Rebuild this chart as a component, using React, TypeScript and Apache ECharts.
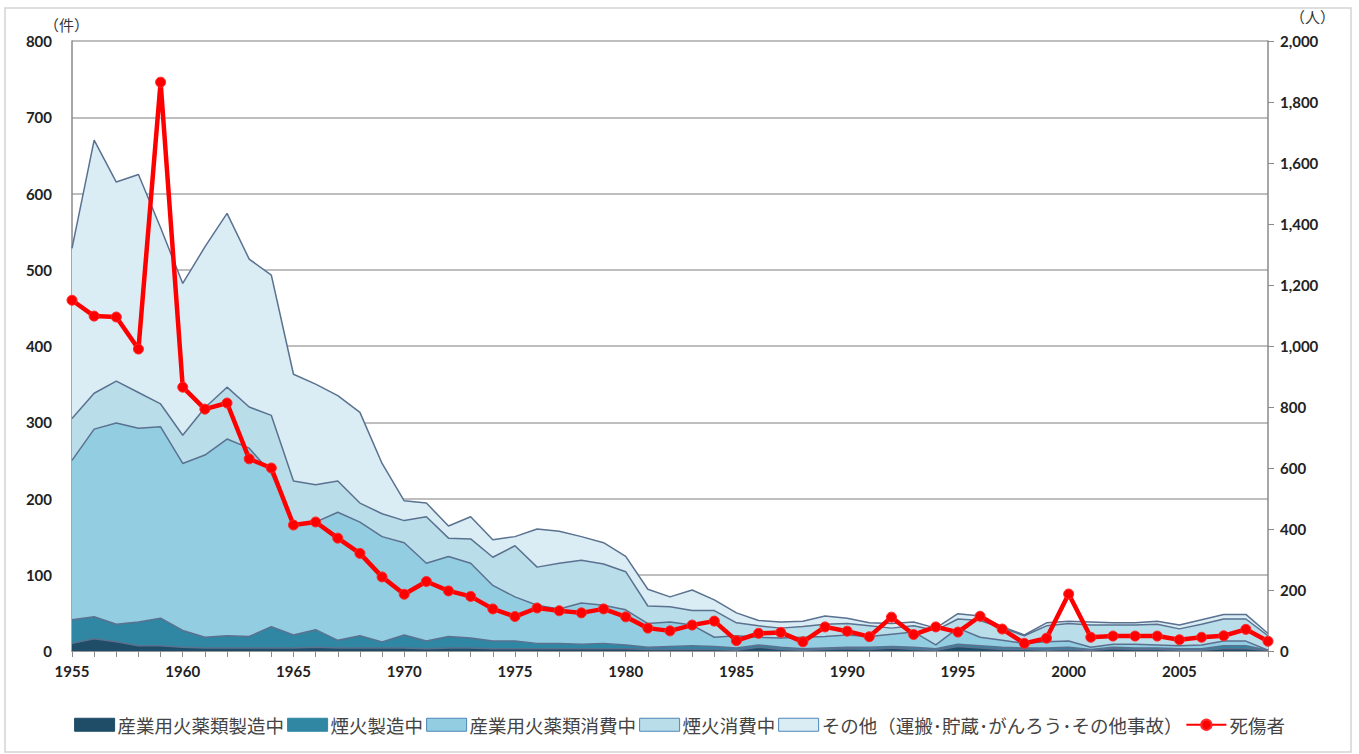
import React, { useEffect, useRef } from "react";
import * as echarts from "echarts";

const years: string[] = [];
for (let y = 1955; y <= 2009; y++) years.push(String(y));

const seriesNames = [
  "産業用火薬類製造中",
  "煙火製造中",
  "産業用火薬類消費中",
  "煙火消費中",
  "その他（運搬･貯蔵･がんろう･その他事故）",
];
const lineName = "死傷者";

// 産業用火薬類製造中
const indMfg = [
  10, 16, 12, 7, 7, 5, 4, 4, 4, 4, 4, 5, 4, 4,
  4, 4, 3, 4, 4, 3, 3, 3, 3, 3, 3, 3, 2, 2, 2,
  2, 1, 5, 2, 1, 2, 3, 2, 4, 2, 1, 6, 4, 2, 2,
  1, 2, 1, 3, 2, 2, 1, 1, 3, 3, 1,
];
// 煙火製造中
const fwMfg = [
  31, 29, 23, 31, 36, 22, 14, 16, 15, 28, 17, 23, 10, 16,
  8, 17, 10, 15, 13, 10, 10, 7, 7, 6, 7, 5, 3, 4, 5,
  4, 3, 3, 3, 2, 2, 2, 3, 2, 3, 2, 3, 3, 3, 2,
  3, 3, 1, 2, 2, 2, 2, 2, 4, 4, 0,
];
// 産業用火薬類消費中
const indUse = [
  209, 246, 264, 254, 251, 219, 239, 258, 247, 201, 147, 141, 168, 149,
  138, 121, 102, 105, 98, 73, 58, 50, 45, 54, 50, 46, 31, 32, 27,
  12, 16, 10, 12, 15, 15, 16, 14, 16, 20, 5, 21, 11, 9, 6,
  8, 8, 3, 4, 5, 4, 4, 5, 6, 6, 0,
];
// 煙火消費中
const fwUse = [
  55, 47, 55, 47, 30, 37, 62, 68, 54, 76, 55, 49, 41, 25,
  30, 29, 61, 24, 32, 37, 67, 50, 60, 56, 54, 50, 23, 20, 19,
  35, 17, 15, 13, 14, 16, 15, 14, 8, 8, 19, 12, 22, 16, 10,
  21, 23, 29, 25, 25, 27, 22, 27, 29, 29, 19,
];
// その他
const others = [
  223, 332, 261, 286, 231, 199, 211, 228, 194, 184, 140, 132, 112, 119,
  66, 26, 18, 16, 29, 23, 12, 50, 42, 31, 28, 20, 22, 13, 27,
  14, 13, 7, 8, 7, 11, 7, 4, 6, 5, 3, 7, 6, 2, 1,
  4, 3, 4, 3, 3, 4, 5, 6, 6, 6, 3,
];
// 死傷者
const casualties = [
  1150, 1098, 1095, 990, 1865, 865, 793, 813, 630, 600, 413, 423, 370, 320,
  243, 186, 228, 197, 179, 138, 113, 141, 132, 125, 138, 112, 75, 66, 85,
  98, 34, 58, 61, 30, 79, 65, 47, 111, 54, 79, 62, 114,
  72, 25, 42, 187, 45, 49, 49, 49, 37, 45, 50, 71, 32,
];

const areaValues = [indMfg, fwMfg, indUse, fwUse, others];
const areaColors = ["#1f4d68", "#2f87a3", "#93cde1", "#b9deea", "#dbedf4"];
const legendBorders = ["#1f4d68", "#2f87a3", "#4d86b8", "#4d86b8", "#4d86b8"];

export default function App() {
  const ref = useRef<HTMLDivElement>(null);
  useEffect(() => {
    if (!ref.current) return;
    const chart = echarts.init(ref.current, null, { renderer: "svg" });
    const numFont = "Lato, 'Liberation Sans', sans-serif";
    const jpFont = "'Noto Sans CJK JP', sans-serif";
    const series: any[] = areaValues.map((vals, i) => ({
      name: seriesNames[i],
      type: "line",
      stack: "total",
      data: vals,
      showSymbol: false,
      symbol: "none",
      lineStyle: { color: "#5a7190", width: 1.5 },
      itemStyle: { color: areaColors[i] },
      areaStyle: { color: areaColors[i], opacity: 1 },
      z: 2,
    }));
    series.push({
      name: lineName,
      type: "line",
      yAxisIndex: 1,
      data: casualties,
      symbol: "circle",
      symbolSize: 10,
      showSymbol: true,
      lineStyle: { color: "#ff0000", width: 4.5 },
      itemStyle: { color: "#ff0000", borderColor: "#ff2a2a", borderWidth: 1 },
      z: 5,
    });
    chart.setOption({
      animation: false,
      backgroundColor: "#ffffff",
      grid: { left: 72, right: 91, top: 41, bottom: 103 },
      graphic: [
        {
          type: "rect",
          shape: { x: 5, y: 8, width: 1346, height: 744 },
          style: { fill: "none", stroke: "#d4d4d4", lineWidth: 1.5 },
          silent: true,
        },
        {
          type: "text",
          left: 44,
          top: 17,
          style: { text: "（件）", font: `15px ${jpFont}`, fill: "#333" },
        },
        {
          type: "text",
          left: 1290,
          top: 9,
          style: { text: "（人）", font: `15px ${jpFont}`, fill: "#333" },
        },
      ],
      legend: {
        bottom: 15,
        left: "center",
        itemWidth: 40,
        itemHeight: 13,
        itemGap: 3,
        textStyle: { fontFamily: jpFont, fontSize: 18.5, color: "#444", padding: [0, 0, 0, -2] },
        data: [
          ...seriesNames.map((n, i) => ({
            name: n,
            icon: "rect",
            itemStyle: { color: areaColors[i], borderColor: legendBorders[i], borderWidth: 1 },
          })),
          { name: lineName },
        ],
      },
      xAxis: {
        type: "category",
        data: years,
        boundaryGap: false,
        axisLine: { lineStyle: { color: "#8a8a8a", width: 1.5 } },
        axisTick: { show: true, interval: 0, length: 6, lineStyle: { color: "#8a8a8a" } },
        axisLabel: {
          interval: 4,
          fontFamily: numFont,
          fontWeight: "bold",
          fontSize: 15,
          color: "#222",
          margin: 12,
        },
        splitLine: { show: false },
      },
      yAxis: [
        {
          type: "value",
          min: 0,
          max: 800,
          interval: 100,
          axisLine: { show: true, lineStyle: { color: "#8a8a8a", width: 1.5 } },
          axisTick: { show: false },
          axisLabel: {
            fontFamily: numFont,
            fontWeight: "bold",
            fontSize: 15,
            color: "#222",
            margin: 20,
          },
          splitLine: { show: true, lineStyle: { color: "#a8a8a8", width: 1.5 } },
        },
        {
          type: "value",
          min: 0,
          max: 2000,
          interval: 200,
          position: "right",
          axisLine: { show: true, lineStyle: { color: "#8a8a8a", width: 1.5 } },
          axisTick: { show: true, length: 6, lineStyle: { color: "#8a8a8a" } },
          axisLabel: {
            fontFamily: numFont,
            fontWeight: "bold",
            fontSize: 15,
            color: "#222",
            margin: 12,
            formatter: (v: number) => v.toLocaleString("en-US"),
          },
          splitLine: { show: false },
        },
      ],
      series,
    });
    return () => chart.dispose();
  }, []);
  return (
    <div
      ref={ref}
      style={{ position: "fixed", left: 0, top: 0, width: 1359, height: 754 }}
    />
  );
}
